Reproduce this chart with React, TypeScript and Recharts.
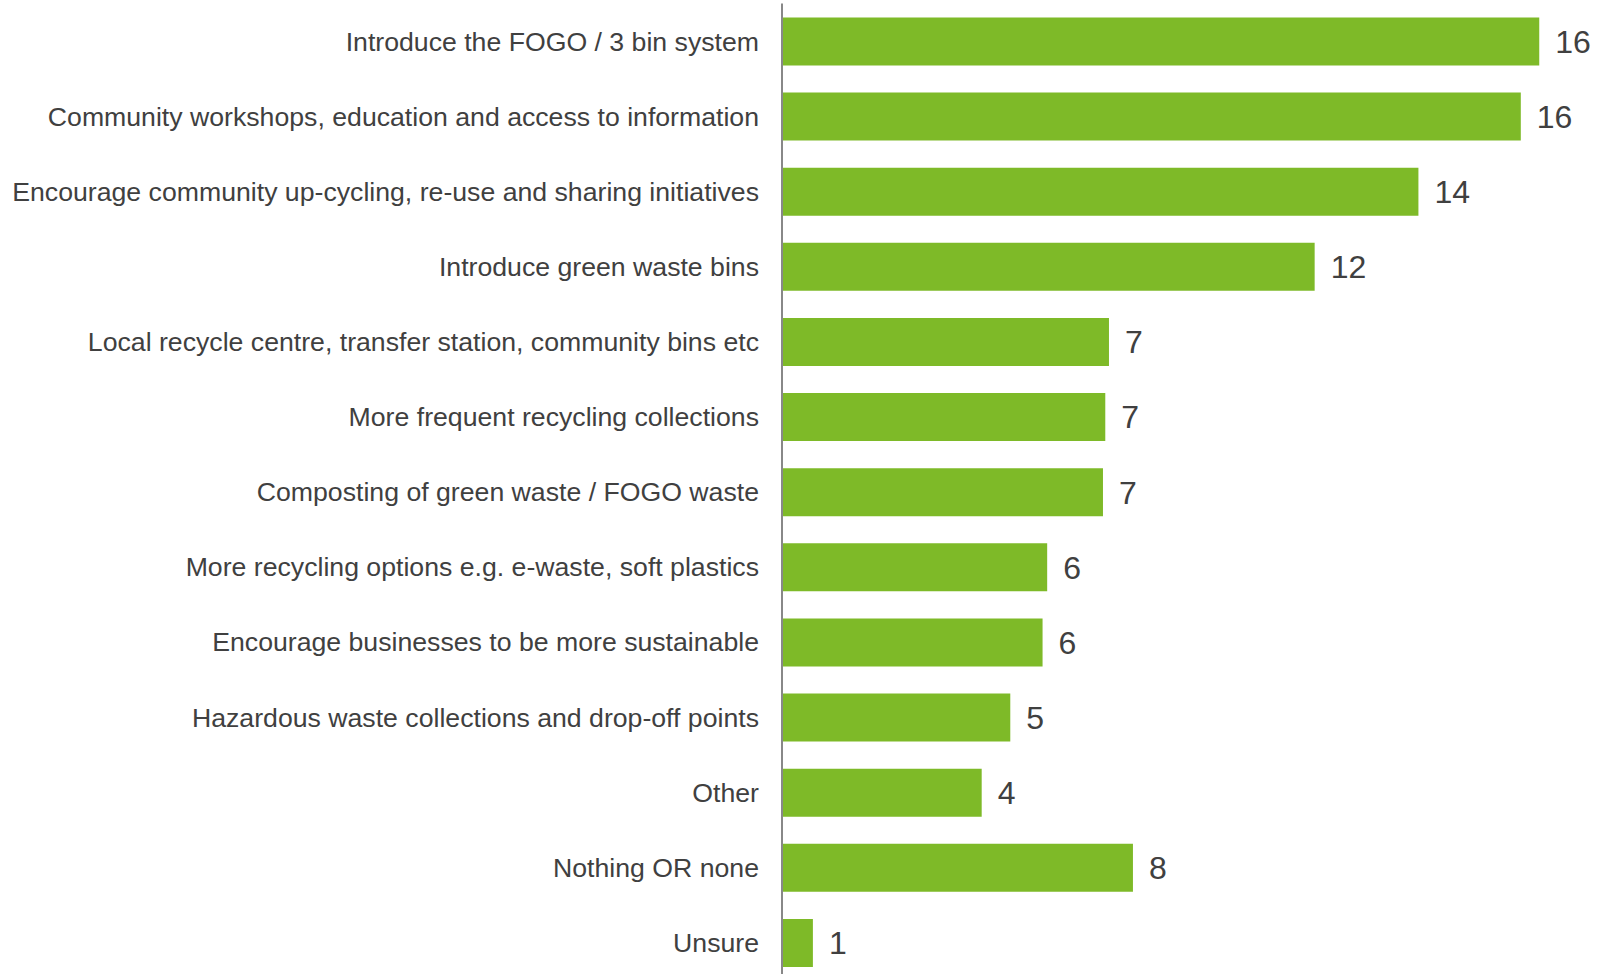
import React from 'react';
import { BarChart, Bar, XAxis, YAxis, LabelList } from 'recharts';

const categories = [
  'Introduce the FOGO / 3 bin system',
  'Community workshops, education and access to information',
  'Encourage community up-cycling, re-use and sharing initiatives',
  'Introduce green waste bins',
  'Local recycle centre, transfer station, community bins etc',
  'More frequent recycling collections',
  'Composting of green waste / FOGO waste',
  'More recycling options e.g. e-waste, soft plastics',
  'Encourage businesses to be more sustainable',
  'Hazardous waste collections and drop-off points',
  'Other',
  'Nothing OR none',
  'Unsure',
];

const values = [16.42, 16.02, 13.8, 11.55, 7.09, 7.01, 6.96, 5.75, 5.65, 4.95, 4.33, 7.61, 0.67];

const data = categories.map((name, i) => ({ name, value: values[i] }));

const FONT = '"Liberation Sans", Arial, Helvetica, sans-serif';

export default function App() {
  return (
    <div
      style={{
        position: 'absolute',
        left: 0,
        top: 0,
        width: 1606,
        height: 974,
        overflow: 'hidden',
        background: '#ffffff',
      }}
    >
      <BarChart
        width={1606}
        height={980}
        data={data}
        layout="vertical"
        margin={{ top: 3.5, right: 40, bottom: 0, left: 0 }}
        barSize={48}
      >
        <XAxis type="number" domain={[0, 17]} hide />
        <YAxis
          type="category"
          dataKey="name"
          width={782}
          tickLine={false}
          tickSize={0}
          tickMargin={23}
          axisLine={{ stroke: '#888888', strokeWidth: 2 }}
          tick={{ fontSize: 26.67, fill: '#404040', fontFamily: FONT }}
          interval={0}
        />
        <Bar dataKey="value" fill="#7EBA28" isAnimationActive={false}>
          <LabelList
            dataKey="value"
            position="right"
            offset={16}
            formatter={(v: number) => Math.round(v)}
            style={{ fontSize: 32, fill: '#404040', fontFamily: FONT }}
          />
        </Bar>
      </BarChart>
    </div>
  );
}
